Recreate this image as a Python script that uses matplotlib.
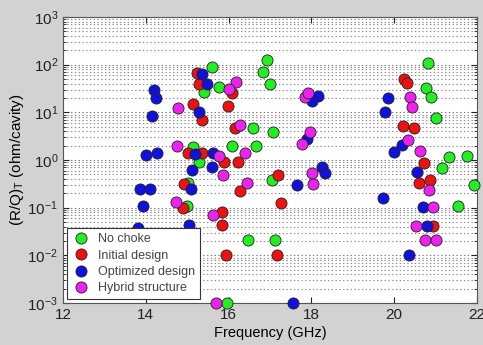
import matplotlib
matplotlib.use("Agg")
import matplotlib.pyplot as plt
from matplotlib.ticker import LogLocator, NullFormatter, FixedLocator

plt.rcParams['font.family'] = ['Liberation Sans', 'DejaVu Sans']

# ---- data (frequency in GHz, (R/Q)_T in ohm/cavity) ----
nochoke_f = [16.92, 16.83, 17.00, 15.60, 15.77, 15.41, 16.59, 16.08, 16.66, 15.14,
             15.29, 15.02, 15.00, 16.47, 17.07, 17.05, 17.12, 15.96, 20.82, 20.77,
             20.89, 21.01, 21.32, 21.76, 21.15, 21.93, 21.54]
nochoke_v = [125, 70, 39, 89, 34, 27, 4.7, 1.97, 1.97, 1.87,
             0.91, 0.33, 0.108, 0.021, 3.9, 0.38, 0.021, 0.001, 108, 32,
             21, 7.6, 1.16, 1.21, 0.68, 0.30, 0.108]

initial_f = [15.24, 15.29, 15.14, 15.99, 15.36, 16.08, 16.15, 15.02, 15.36, 15.89,
             16.23, 16.28, 14.92, 14.90, 15.84, 15.84, 15.94, 17.19, 17.27, 17.17,
             20.24, 20.31, 20.21, 20.48, 20.72, 20.60, 20.86, 20.94]
initial_v = [67, 39, 15, 13.6, 6.9, 25, 4.7, 1.40, 1.40, 0.91,
             0.91, 0.22, 0.31, 0.098, 0.081, 0.043, 0.010, 0.49, 0.125, 0.010,
             50, 41, 5.2, 4.7, 0.86, 0.33, 0.38, 0.041]

optimized_f = [14.20, 14.25, 14.15, 15.36, 15.48, 15.29, 14.00, 14.27, 15.19, 15.62,
               15.12, 15.60, 13.86, 14.10, 13.93, 15.09, 15.04, 13.81, 17.65, 18.26,
               18.33, 19.73, 20.55, 19.99, 20.70, 20.79, 20.36, 17.56, 18.16, 18.01,
               17.89, 19.85, 19.78, 20.19]
optimized_v = [29, 20, 8.4, 64, 39, 10.2, 1.27, 1.40, 1.34, 1.40,
               0.62, 0.71, 0.25, 0.25, 0.108, 0.25, 0.043, 0.037, 0.30, 0.71,
               0.53, 0.16, 0.56, 1.47, 0.103, 0.041, 0.010, 0.001, 22, 17,
               2.76, 20, 10.2, 2.07]

hybrid_f = [16.18, 16.01, 14.78, 16.28, 14.75, 15.77, 16.40, 15.86, 16.44, 14.73,
            15.62, 15.70, 17.85, 17.92, 20.38, 20.43, 17.97, 17.77, 20.33, 20.62,
            18.01, 18.04, 20.84, 20.94, 20.53, 20.75, 21.01]
hybrid_v = [43, 31, 12.3, 5.4, 1.97, 1.21, 1.40, 0.48, 0.33, 0.13,
            0.070, 0.001, 21, 25, 21, 13, 3.9, 2.17, 2.6, 1.55,
            0.53, 0.31, 0.235, 0.103, 0.041, 0.021, 0.021]

series = [
    ("No choke", nochoke_f, nochoke_v, "#22ee22"),
    ("Initial design", initial_f, initial_v, "#ee1111"),
    ("Optimized design", optimized_f, optimized_v, "#1111dd"),
    ("Hybrid structure", hybrid_f, hybrid_v, "#ee22ee"),
]

xticks = [12, 14, 16, 18, 20, 22]

fig = plt.figure(figsize=(4.83, 3.45), dpi=100)
fig.patch.set_facecolor('#d2d2d2')
ax = fig.add_axes([0.1304, 0.1217, 0.857, 0.829])
ax.set_facecolor('white')

for name, f, v, c in series:
    ax.plot(f, v, linestyle='none', marker='o', markersize=8,
            markerfacecolor=c, markeredgecolor='#222222', markeredgewidth=0.6,
            label=name, clip_on=False, zorder=3)

ax.set_yscale('log')
ax.set_xlim(12, 22)
ax.set_ylim(1e-3, 1e3)
ax.xaxis.set_major_locator(FixedLocator(xticks))
ax.set_xticklabels([str(t) for t in xticks])
ax.yaxis.set_major_locator(LogLocator(base=10, numticks=10))
ax.yaxis.set_minor_locator(LogLocator(base=10, subs=range(2, 10), numticks=100))
ax.yaxis.set_minor_formatter(NullFormatter())

ax.grid(True, which='major', axis='y', linestyle=(0, (1.2, 2.2)), color='#777777', linewidth=0.8)
ax.grid(True, which='minor', axis='y', linestyle=(0, (1.2, 2.2)), color='#888888', linewidth=0.8)
ax.set_axisbelow(True)

ax.tick_params(which='both', direction='in', top=True, right=True, labelsize=11, colors='#222222')
ax.tick_params(which='major', length=4)
ax.tick_params(which='minor', length=2)
for s in ax.spines.values():
    s.set_color('#555555')
    s.set_linewidth(0.8)

ax.set_xlabel('Frequency (GHz)', fontsize=10.5, labelpad=3)
ax.set_ylabel('(R/Q)$_\\mathregular{T}$ (ohm/cavity)', fontsize=11, labelpad=1)

leg = ax.legend(loc='lower left', fontsize=9, frameon=True, fancybox=False,
                edgecolor='#333333', framealpha=1, borderaxespad=0.3,
                handletextpad=0.6, labelspacing=0.35, borderpad=0.4,
                handlelength=1.5)
leg.get_frame().set_linewidth(0.8)
for t in leg.get_texts():
    t.set_color('#444444')

fig.savefig('out.png', dpi=100, facecolor=fig.get_facecolor())
